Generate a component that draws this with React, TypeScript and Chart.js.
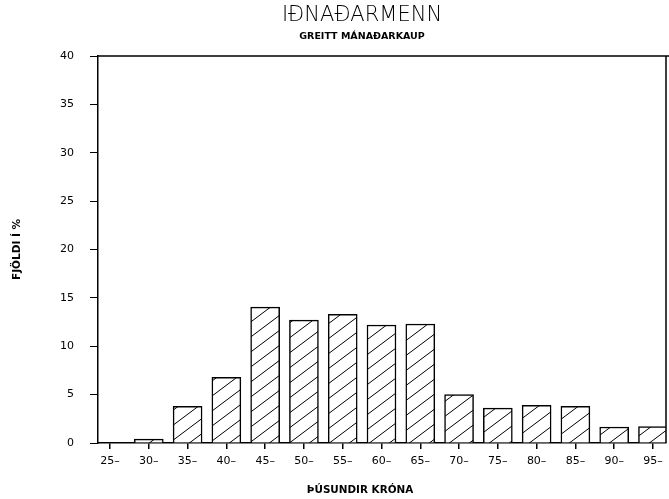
import React, { useEffect, useRef } from "react";
import { Chart, registerables } from "chart.js";

Chart.register(...registerables);

const categories = [25, 30, 35, 40, 45, 50, 55, 60, 65, 70, 75, 80, 85, 90, 95];
const shares = [0, 0.4, 3.8, 6.8, 14.05, 12.7, 13.3, 12.2, 12.3, 5.0, 3.6, 3.9, 3.8, 1.65, 1.7];
const yTicks = [0, 5, 10, 15, 20, 25, 30, 35, 40];
const titleText = "IÐNAÐARMENN";
const subtitleText = "GREITT MÁNAÐARKAUP";
const xTitle = "ÞÚSUNDIR KRÓNA";
const yTitle = "FJÖLDI Í %";

const FONT = "'DejaVu Sans', 'Liberation Sans', Arial, sans-serif";

function makeHatch(): CanvasPattern | string {
  const c = document.createElement("canvas");
  c.width = 20;
  c.height = 15;
  const ctx = c.getContext("2d");
  if (!ctx) return "#fff";
  ctx.fillStyle = "#fff";
  ctx.fillRect(0, 0, 20, 15);
  ctx.strokeStyle = "#000";
  ctx.lineWidth = 1;
  ctx.beginPath();
  ctx.moveTo(-20, 30);
  ctx.lineTo(40, -15);
  ctx.moveTo(-20, 15);
  ctx.lineTo(20, -15);
  ctx.moveTo(0, 30);
  ctx.lineTo(40, 0);
  ctx.stroke();
  return ctx.createPattern(c, "repeat") || "#fff";
}

const decorPlugin = {
  id: "decorPlugin",
  afterDatasetsDraw(chart: any) {
    const { ctx, chartArea } = chart;
    ctx.save();
    ctx.strokeStyle = "#000";
    ctx.lineWidth = 1.5;
    ctx.beginPath();
    ctx.moveTo(chartArea.left, chartArea.top);
    ctx.lineTo(chartArea.right + 3, chartArea.top);
    ctx.moveTo(chartArea.right, chartArea.top);
    ctx.lineTo(chartArea.right, chartArea.bottom);
    ctx.stroke();

    const cx = 362;
    ctx.fillStyle = "#000";
    ctx.textAlign = "center";
    ctx.textBaseline = "middle";
    ctx.font = `200 21px ${FONT}`;
    ctx.fillText(titleText, cx, 16);
    ctx.font = `bold 9.5px ${FONT}`;
    ctx.fillText(subtitleText, cx, 37);
    ctx.font = `bold 10.4px ${FONT}`;
    ctx.fillText(xTitle, 360, 490);
    ctx.restore();
  },
};

export default function App() {
  const ref = useRef<HTMLCanvasElement | null>(null);
  useEffect(() => {
    if (!ref.current) return;
    const chart = new Chart(ref.current, {
      type: "bar",
      data: {
        datasets: [
          {
            data: categories.map((c, i) => ({ x: c, y: shares[i] })),
            backgroundColor: makeHatch() as any,
            borderColor: "#000",
            borderWidth: 1.5,
            barThickness: 29,
          },
        ],
      },
      options: {
        animation: false,
        responsive: false,
        maintainAspectRatio: false,
        layout: { padding: { left: 11, right: 3, top: 56, bottom: 31 } },
        plugins: {
          legend: { display: false },
          tooltip: { enabled: false },
          title: { display: false },
        },
        scales: {
          x: {
            type: "linear",
            min: 23.45,
            max: 96.68,
            offset: false,
            afterBuildTicks: (scale: any) => {
              scale.ticks = categories.map((v) => ({ value: v }));
            },
            afterFit: (scale: any) => {
              scale.height = 25;
            },
            ticks: {
              color: "#000",
              font: { family: FONT, size: 11 },
              padding: 6,
              maxRotation: 0,
              autoSkip: false,
              callback: (v: any) => `${v}–`,
            },
            grid: { drawOnChartArea: false, offset: false, tickLength: 6, color: "#000", lineWidth: 1.5 },
            border: { color: "#000", width: 1.5 },
          },
          y: {
            min: 0,
            max: 40,
            afterBuildTicks: (scale: any) => {
              scale.ticks = yTicks.map((v) => ({ value: v }));
            },
            afterFit: (scale: any) => {
              scale.width = 87;
            },
            ticks: {
              color: "#000",
              font: { family: FONT, size: 11 },
              padding: 16,
            },
            grid: { drawOnChartArea: false, tickLength: 8, color: "#000", lineWidth: 1 },
            border: { color: "#000", width: 1.5 },
            title: {
              display: true,
              text: yTitle,
              color: "#000",
              font: { family: FONT, size: 10.5, weight: "bold" },
              padding: { top: 0, bottom: 0 },
            },
          },
        },
      },
      plugins: [decorPlugin],
    } as any);
    return () => chart.destroy();
  }, []);
  return (
    <div style={{ position: "fixed", left: 0, top: 0, width: 669, height: 499, background: "#fff" }}>
      <canvas ref={ref} width={669} height={499} style={{ width: 669, height: 499 }} />
    </div>
  );
}
